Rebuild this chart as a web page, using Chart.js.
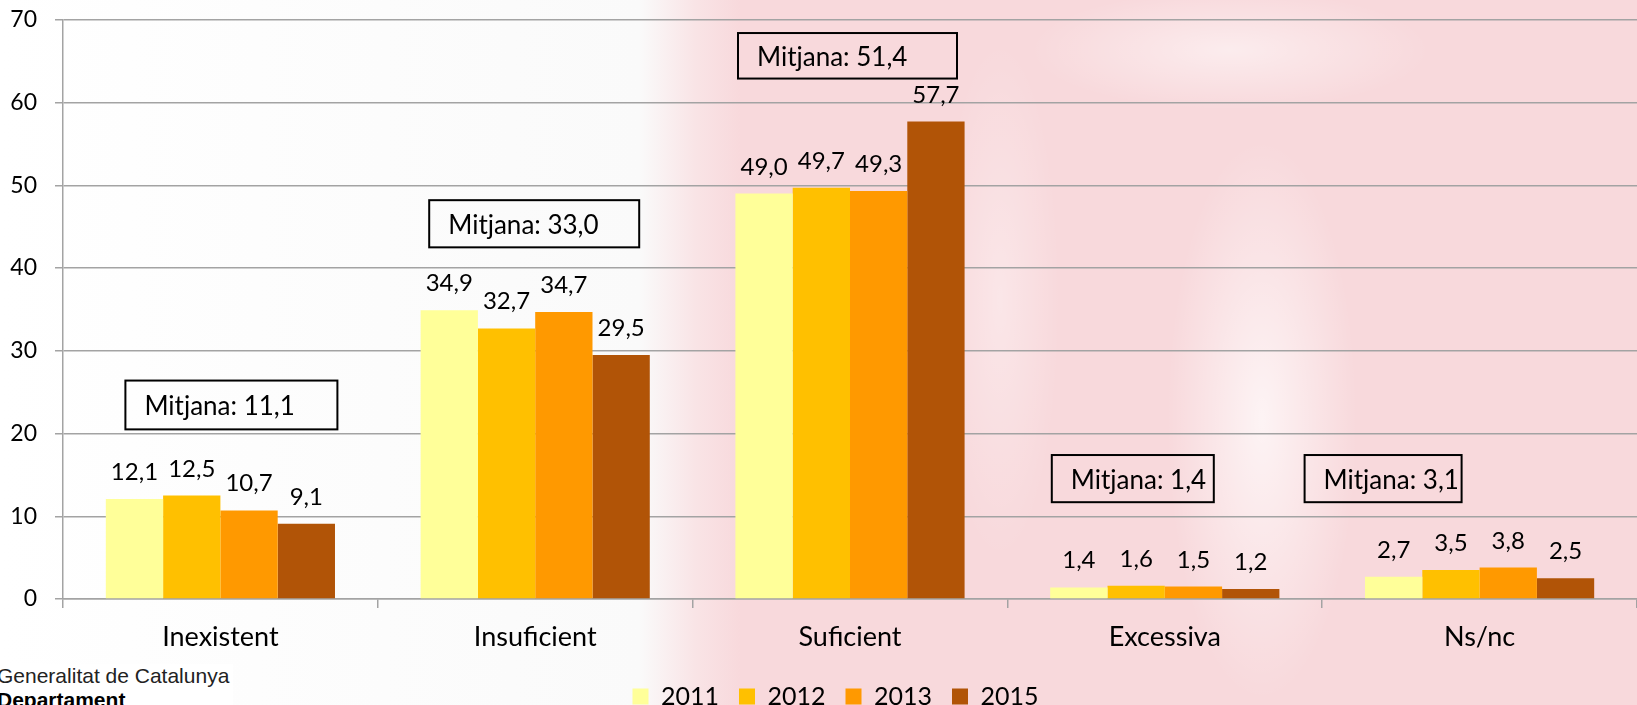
<!DOCTYPE html>
<html>
<head>
<meta charset="utf-8">
<script src="https://cdn.jsdelivr.net/npm/chart.js@4.4.1/dist/chart.umd.min.js"></script>
<style>
  html, body { margin: 0; padding: 0; width: 1637px; height: 705px; overflow: hidden; }
  body {
    position: relative;
    background:
      radial-gradient(ellipse 95px 280px at 1262px 420px, rgba(255,255,255,0.7), rgba(255,255,255,0) 100%),
      radial-gradient(ellipse 200px 60px at 1230px 50px, rgba(255,255,255,0.5), rgba(255,255,255,0) 100%),
      radial-gradient(ellipse 60px 260px at 1000px 300px, rgba(255,255,255,0.35), rgba(255,255,255,0) 100%),
      linear-gradient(90deg, #ffffff 0px, #fafafa 640px, #f9e4e6 695px, #f8d9dc 740px, #f8d9dc 1637px);
  }
  #wrap { position: absolute; left: 0; top: -12px; width: 1637px; height: 731px; }
  #logo { position: absolute; left: -3px; top: 664px; font-family: "Liberation Sans", Arial, sans-serif; color: #222; background: #fff; padding-right: 4px; }
  #logo .l1 { font-size: 21px; line-height: 24px; }
  #logo .l2 { font-size: 21px; line-height: 24px; font-weight: bold; color: #000; }
</style>
</head>
<body>
<div id="wrap"><canvas id="myChart"></canvas></div>
<div id="logo"><div class="l1">Generalitat de Catalunya</div><div class="l2">Departament</div></div>
<script>
// dades
const categories = ['Inexistent', 'Insuficient', 'Suficient', 'Excessiva', 'Ns/nc'];
const years = ['2011', '2012', '2013', '2015'];
const values2011 = [12.1, 34.9, 49.0, 1.4, 2.7];
const values2012 = [12.5, 32.7, 49.7, 1.6, 3.5];
const values2013 = [10.7, 34.7, 49.3, 1.5, 3.8];
const values2015 = [9.1, 29.5, 57.7, 1.2, 2.5];
const means = [11.1, 33.0, 51.4, 1.4, 3.1];
const yTicks = [0, 10, 20, 30, 40, 50, 60, 70];

const colors = ['#FFFF99', '#FFC000', '#FF9900', '#B15407'];
const gridColor = '#a3a3a3';
const fontFamily = 'Lato, "Open Sans", sans-serif';

// caixes "Mitjana" (posicio relativa al centre de la categoria)
const boxLayout = [
  { dx: -95, w: 212, top: 26.4, bottom: 20.5 },
  { dx: -106, w: 210, top: 48.2, bottom: 42.5 },
  { dx: -112, w: 219, top: 68.4, bottom: 62.9 },
  { dx: -113, w: 162, top: 17.4, bottom: 11.7 },
  { dx: -175, w: 157, top: 17.4, bottom: 11.7 }
];

function fmt(v) {
  return v.toFixed(1).replace('.', ',');
}

const valueLabels = {
  id: 'valueLabels',
  afterDatasetsDraw: function (chart) {
    const ctx = chart.ctx;
    ctx.save();
    ctx.font = '24px ' + fontFamily;
    ctx.fillStyle = '#000';
    ctx.textAlign = 'center';
    ctx.textBaseline = 'alphabetic';
    chart.data.datasets.forEach((ds, di) => {
      const meta = chart.getDatasetMeta(di);
      meta.data.forEach((bar, i) => {
        ctx.fillText(fmt(ds.data[i]), bar.x, bar.y - 19);
      });
    });
    ctx.restore();
  }
};

const meanBoxes = {
  id: 'meanBoxes',
  afterDraw: function (chart) {
    const ctx = chart.ctx;
    const xs = chart.scales.x;
    const ys = chart.scales.y;
    ctx.save();
    ctx.strokeStyle = '#000';
    ctx.lineWidth = 2;
    ctx.font = '26px ' + fontFamily;
    ctx.fillStyle = '#000';
    ctx.textAlign = 'left';
    ctx.textBaseline = 'middle';
    means.forEach((m, i) => {
      const b = boxLayout[i];
      const cx = xs.getPixelForValue(i);
      const top = ys.getPixelForValue(b.top);
      const bottom = ys.getPixelForValue(b.bottom);
      const left = cx + b.dx;
      ctx.strokeRect(left, top, b.w, bottom - top);
      ctx.fillText('Mitjana: ' + fmt(m), left + 19, (top + bottom) / 2 + 2);
    });
    ctx.restore();
  }
};

// la llegenda va una mica desplaçada a la dreta
const legendShift = {
  id: 'legendShift',
  afterLayout: function (chart) {
    chart.legend.left += 17;
    chart.legend.right += 17;
  }
};

const ctx = document.getElementById('myChart').getContext('2d');
const allValues = [values2011, values2012, values2013, values2015];

new Chart(ctx, {
  type: 'bar',
  data: {
    labels: categories,
    datasets: years.map((y, i) => ({
      label: y,
      data: allValues[i],
      backgroundColor: colors[i],
      borderWidth: 0,
      barPercentage: 1.0,
      categoryPercentage: 0.728
    }))
  },
  options: {
    responsive: true,
    maintainAspectRatio: false,
    animation: false,
    layout: { autoPadding: false, padding: { top: 6, right: 0, bottom: 0, left: 0 } },
    plugins: {
      tooltip: { enabled: false },
      legend: {
        position: 'bottom',
        labels: {
          boxWidth: 16,
          boxHeight: 16,
          padding: 20,
          color: '#000',
          font: { size: 25, family: fontFamily }
        }
      }
    },
    scales: {
      x: {
        afterFit: function (scale) {
          scale.height = 65;
        },
        grid: { display: true, drawOnChartArea: false, color: gridColor, lineWidth: 1.5, tickLength: 9, offset: true },
        border: { color: gridColor, width: 1.5 },
        ticks: { color: '#000', font: { size: 27, family: fontFamily }, padding: 13 }
      },
      y: {
        min: 0,
        max: 70,
        afterBuildTicks: function (scale) {
          scale.ticks = yTicks.map(v => ({ value: v }));
        },
        afterFit: function (scale) {
          scale.width = 63;
        },
        grid: { color: gridColor, lineWidth: 1.5, tickLength: 8 },
        border: { color: gridColor, width: 1.5 },
        ticks: { color: '#000', font: { size: 23, family: fontFamily }, padding: 18 }
      }
    }
  },
  plugins: [valueLabels, meanBoxes, legendShift]
});
</script>
</body>
</html>
